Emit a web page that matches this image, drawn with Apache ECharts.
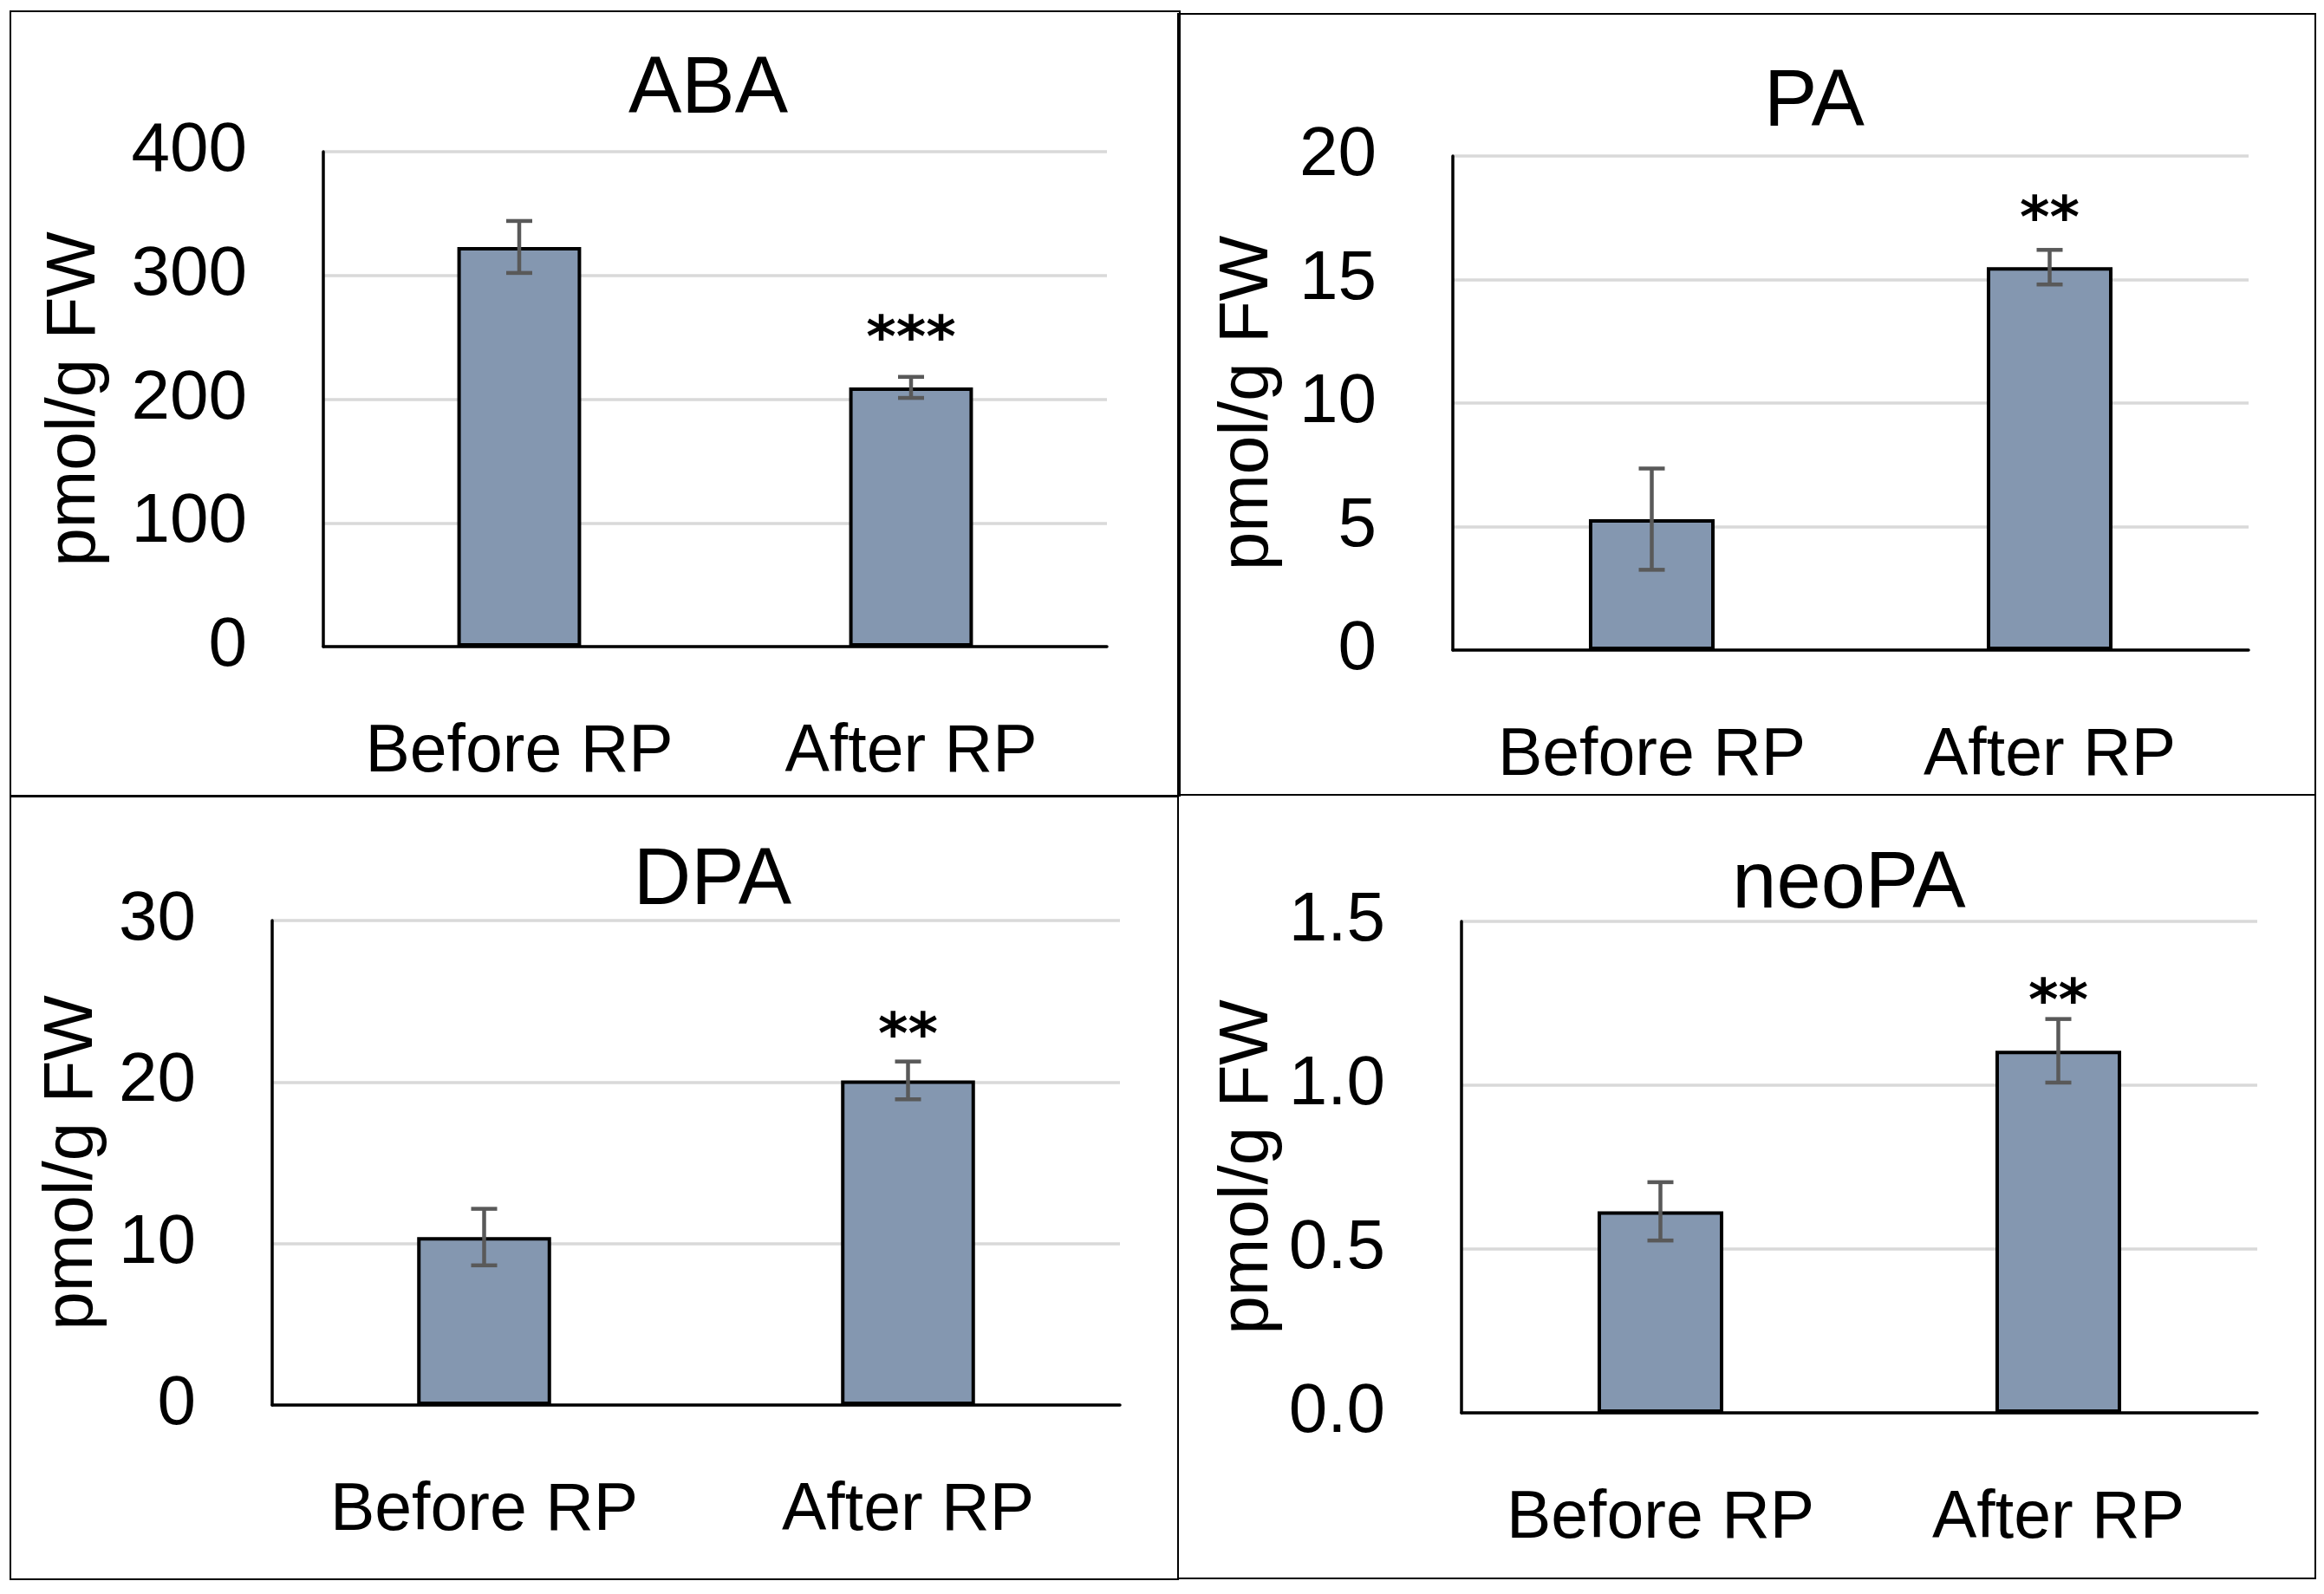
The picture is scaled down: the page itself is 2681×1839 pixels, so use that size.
<!DOCTYPE html>
<html><head><meta charset="utf-8">
<script src="https://cdn.jsdelivr.net/npm/echarts/dist/echarts.min.js"></script>
<style>html,body{margin:0;padding:0;background:#fff}#c{width:2681px;height:1839px}</style>
</head><body><div id="c"></div>
<script>
// ---- data ----
const categories = ['Before RP', 'After RP'];
const titles = ['ABA', 'PA', 'DPA', 'neoPA'];
const yAxisName = 'pmol/g FW';
const abaMean = [323, 209.5];
const abaErr = [21, 8.5];
const abaSig = ['', '***'];
const paMean = [5.3, 15.5];
const paErr = [2.05, 0.7];
const paSig = ['', '**'];
const dpaMean = [10.4, 20.1];
const dpaErr = [1.75, 1.17];
const dpaSig = ['', '**'];
const neoMean = [0.615, 1.105];
const neoErr = [0.089, 0.097];
const neoSig = ['', '**'];
const yMax = [400, 20, 30, 1.5];
const yStep = [100, 5, 10, 0.5];
const yDecimals = [0, 0, 0, 1];

// ---- layout / style ----
const FONT = '"Liberation Sans", Arial, sans-serif';
const means = [abaMean, paMean, dpaMean, neoMean];
const errs = [abaErr, paErr, dpaErr, neoErr];
const sigs = [abaSig, paSig, dpaSig, neoSig];
const grids = [
  {left: 373, top: 175, width: 904, height: 571},
  {left: 1676, top: 180, width: 918, height: 570},
  {left: 314, top: 1062, width: 978, height: 559},
  {left: 1686, top: 1063, width: 918, height: 567}
];
const nameGaps = [246, 196, 190, 206];
const sigOffsets = [41, 32, 27, 17];
const titlePos = [[817, 105], [2093, 120], [822, 1018], [2133, 1022]];
const panelRects = [
  [12, 13, 1349, 905], [1359, 16, 1312, 901], [12, 919, 1347, 903], [1359, 917, 1312, 904]
];

function errRender(sigArr, offset) {
  return function (params, api) {
    const x = api.value(0), lo = api.value(1), hi = api.value(2);
    const pLo = api.coord([x, lo]), pHi = api.coord([x, hi]);
    const cap = 15;
    const st = {stroke: '#595959', lineWidth: 4.5};
    const children = [
      {type: 'line', shape: {x1: pHi[0], y1: pHi[1], x2: pLo[0], y2: pLo[1]}, style: st},
      {type: 'line', shape: {x1: pHi[0] - cap, y1: pHi[1], x2: pHi[0] + cap, y2: pHi[1]}, style: st},
      {type: 'line', shape: {x1: pLo[0] - cap, y1: pLo[1], x2: pLo[0] + cap, y2: pLo[1]}, style: st}
    ];
    const s = sigArr[params.dataIndex];
    if (s) {
      children.push({type: 'text', x: pHi[0], y: pHi[1] - offset,
        style: {text: s, font: 'bold 66px "DejaVu Sans"', align: 'center', verticalAlign: 'middle', fill: '#000'}});
    }
    return {type: 'group', children};
  };
}

const option = {
  animation: false,
  backgroundColor: '#fff',
  grid: grids.map(g => Object.assign({outerBoundsMode: 'none', containLabel: false}, g)),
  xAxis: grids.map((g, i) => ({
    type: 'category', gridIndex: i, data: categories,
    axisLine: {show: true, lineStyle: {color: '#000', width: 3.5}},
    axisTick: {show: false},
    axisLabel: {color: '#000', fontFamily: FONT, fontSize: 77, margin: 84, interval: 0},
    splitLine: {show: false}
  })),
  yAxis: grids.map((g, i) => ({
    type: 'value', gridIndex: i, min: 0, max: yMax[i], interval: yStep[i],
    name: yAxisName, nameLocation: 'middle', nameRotate: 90, nameGap: nameGaps[i],
    nameTextStyle: {color: '#000', fontFamily: FONT, fontSize: 80},
    axisLine: {show: true, lineStyle: {color: '#000', width: 3.5}},
    axisTick: {show: false},
    axisLabel: {color: '#000', fontFamily: FONT, fontSize: 80, margin: 88,
      formatter: v => v.toFixed(yDecimals[i])},
    splitLine: {show: true, lineStyle: {color: '#D9D9D9', width: 3.5}}
  })),
  series: [],
  graphic: []
};

for (let i = 0; i < 4; i++) {
  option.series.push({
    type: 'bar', xAxisIndex: i, yAxisIndex: i, data: means[i], barWidth: '31.6%',
    itemStyle: {color: '#8497B0', borderColor: '#000', borderWidth: 4}, z: 2
  });
  option.series.push({
    type: 'custom', xAxisIndex: i, yAxisIndex: i, z: 5,
    renderItem: errRender(sigs[i], sigOffsets[i]),
    encode: {x: 0, y: [1, 2]},
    data: means[i].map((m, j) => [j, m - errs[i][j], m + errs[i][j]])
  });
  option.graphic.push({
    type: 'text', x: titlePos[i][0], y: titlePos[i][1],
    style: {text: titles[i], font: '92px ' + FONT, align: 'center', verticalAlign: 'middle', fill: '#000'}
  });
  const r = panelRects[i];
  option.graphic.push({
    type: 'rect', shape: {x: r[0], y: r[1], width: r[2], height: r[3]},
    style: {fill: 'none', stroke: '#000', lineWidth: 2}, z: 100
  });
}

const chart = echarts.init(document.getElementById('c'));
chart.setOption(option);
</script>
</body></html>
